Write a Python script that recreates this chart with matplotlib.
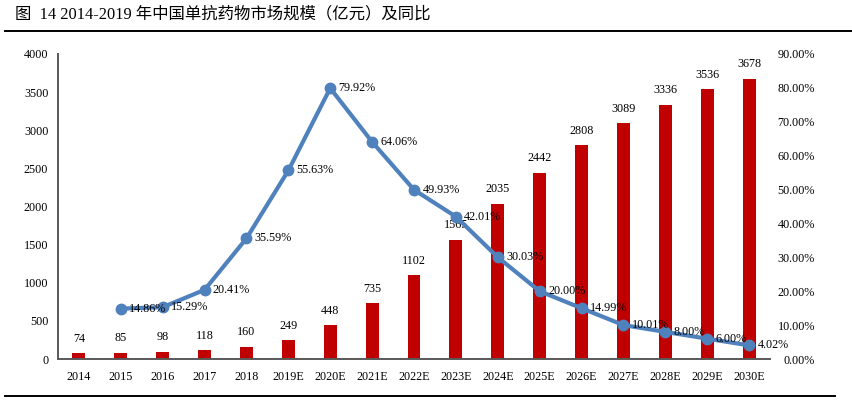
import numpy as np
import matplotlib.pyplot as plt
from matplotlib.lines import Line2D

years = ['2014', '2015', '2016', '2017', '2018', '2019E', '2020E', '2021E', '2022E',
         '2023E', '2024E', '2025E', '2026E', '2027E', '2028E', '2029E', '2030E']
market = [74, 85, 98, 118, 160, 249, 448, 735, 1102, 1565, 2035, 2442, 2808, 3089, 3336, 3536, 3678]
# growth rate (%) from 2015 on
growth = [14.86, 15.29, 20.41, 35.59, 55.63, 79.92, 64.06, 49.93, 42.01, 30.03,
          20.00, 14.99, 10.01, 8.00, 6.00, 4.02]

plt.rcParams['font.family'] = ['Liberation Serif', 'Noto Sans CJK SC']
plt.rcParams['font.size'] = 8.7

fig = plt.figure(figsize=(8.52, 4.04), dpi=100)
ax = fig.add_axes([58 / 852, 1 - 359 / 404, 712 / 852, 305 / 404])
x = np.arange(len(years))

ax.bar(x, market, width=0.31, color='#C00000', zorder=2)
for xi, v in zip(x, market):
    ax.annotate(str(v), (xi, v), xytext=(0, 6), textcoords='offset points',
                ha='center', va='bottom')
ax.set_xlim(-0.5, len(years) - 0.5)
ax.set_ylim(0, 4000)
ax.set_yticks(np.arange(0, 4001, 500))
ax.set_xticks(x)
ax.set_xticklabels(years)
ax.tick_params(axis='both', length=0)
ax.tick_params(axis='y', pad=7)
ax.tick_params(axis='x', pad=9)
for s in ['top', 'right']:
    ax.spines[s].set_visible(False)
ax.spines['left'].set_color('#595959')
ax.spines['bottom'].set_color('#595959')
ax.spines['left'].set_linewidth(1.4)
ax.spines['bottom'].set_linewidth(1.4)

ax2 = ax.twinx()
ax2.plot(x[1:], growth, color='#4F81BD', lw=3, marker='o', ms=7.5, zorder=3)
for xi, g in zip(x[1:], growth):
    ax2.annotate('%.2f%%' % g, (xi, g), xytext=(6, 0), textcoords='offset points',
                 ha='left', va='center')
ax2.set_ylim(0, 90)
ax2.set_yticks(np.arange(0, 91, 10))
ax2.set_yticklabels(['%.2f%%' % t for t in np.arange(0, 91, 10)])
ax2.tick_params(axis='y', length=0, pad=32.4)
for lab in ax2.get_yticklabels():
    lab.set_horizontalalignment('right')
for s in ax2.spines.values():
    s.set_visible(False)

fig.text(15 / 852, 1 - 14 / 404, '图  14 2014-2019 年中国单抗药物市场规模（亿元）及同比',
         fontsize=11.8, va='center', ha='left')
fig.add_artist(Line2D([5 / 852, 1.0], [1 - 31 / 404] * 2, color='black', lw=1.4))
fig.add_artist(Line2D([5 / 852, 835 / 852], [1 - 396 / 404] * 2, color='black', lw=1.4))

fig.savefig('out.png', dpi=100)
